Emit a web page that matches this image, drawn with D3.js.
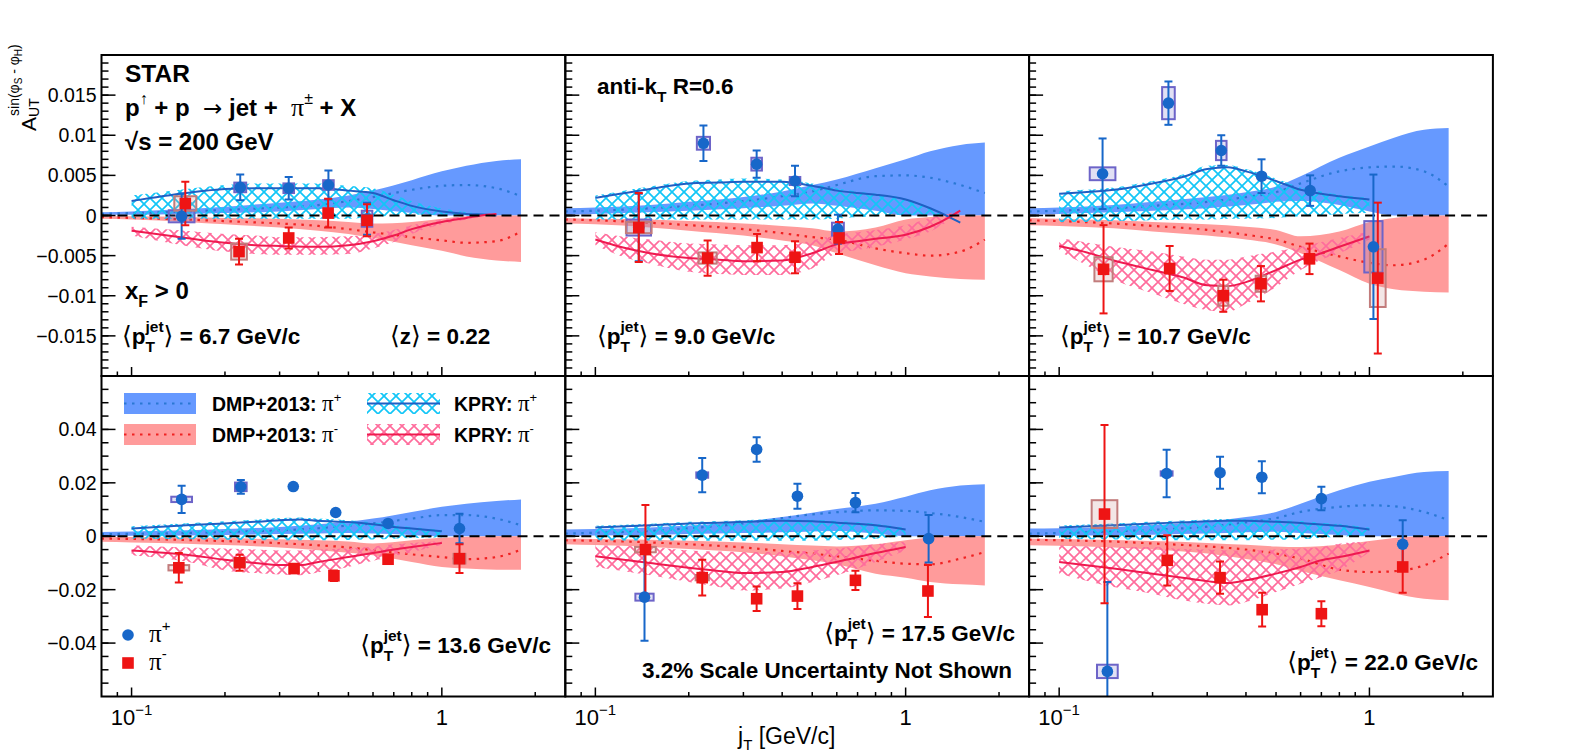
<!DOCTYPE html>
<html><head><meta charset="utf-8">
<script src="https://cdn.jsdelivr.net/npm/d3@7"></script>
<style>body{margin:0;background:#fff} svg{display:block} text{white-space:pre}</style>
</head><body><svg id="c" width="1575" height="753"></svg>
<script>
// ---------------- DATA ----------------
const panelPt = ["6.7", "9.0", "10.7", "13.6", "17.5", "22.0"];
const yTickVals = [[-0.015,-0.01,-0.005,0,0.005,0.01,0.015],[-0.04,-0.02,0,0.02,0.04]];
const yTickLabels = [["−0.015","−0.01","−0.005","0","0.005","0.01","0.015"],["−0.04","−0.02","0","0.02","0.04"]];
const xTickVals = [0.1, 1];
const xTickLabels = ["10|−1", "1"];

// pi+ data
const pipJt = [[0.145,0.224,0.321,0.431,0.574],[0.138,0.223,0.331,0.440,0.605],[0.138,0.225,0.333,0.449,0.644,1.03],
  [0.145,0.225,0.332,0.455,0.671,1.14],[0.144,0.221,0.331,0.448,0.689,1.186],[0.143,0.222,0.330,0.450,0.700,1.28]];
const pipA = [[-0.0001,0.0035,0.0034,0.0038,-0.0004],[-0.0015,0.0090,0.0064,0.0043,-0.0017],[0.0052,0.0140,0.0081,0.0049,0.0031,-0.0039],
  [0.0138,0.0185,0.0186,0.0089,0.0048,0.0029],[-0.0228,0.0229,0.0325,0.0150,0.0126,-0.0009],[-0.0506,0.0235,0.0238,0.0221,0.0141,-0.0030]];
const pipStat = [[0.0028,0.0016,0.0014,0.0018,0.0020],[0.0042,0.0022,0.0017,0.0019,0.0018],[0.0044,0.0027,0.0019,0.0021,0.0019,0.0090],
  [0.0051,0.0026,0.0008,0.0008,0.0008,0.0055],[0.0163,0.0064,0.0046,0.0047,0.0036,0.0089],[0.0335,0.0089,0.0060,0.0060,0.0044,0.0090]];
const pipSysJt = [[0.10,0.045,0.04,0.04,0.04],[0.095,0.05,0.04,0.04,0.045],[0.10,0.048,0.04,0.03,0.03,0.07],
  [0.08,0.044,0.03,0.03,0.03,0.03],[0.07,0.045,0.03,0.03,0.03,0.03],[0.08,0.045,0.03,0.03,0.03,0.03]];
const pipSysA = [[0.00075,0.0006,0.0006,0.0006,0.001],[0.001,0.0008,0.0008,0.0005,0.0008],[0.0008,0.002,0.0012,0.0003,0.0003,0.0032],
  [0.001,0.0016,0.0005,0.0005,0.0005,0.0005],[0.0013,0.001,0.0005,0.0005,0.0005,0.0005],[0.0025,0.0008,0.0005,0.0005,0.0005,0.0005]];

// pi- data
const pimJt = [[0.149,0.222,0.321,0.430,0.574],[0.138,0.230,0.332,0.440,0.610],[0.139,0.227,0.338,0.447,0.641,1.064],
  [0.142,0.223,0.334,0.449,0.671,1.14],[0.145,0.221,0.331,0.448,0.689,1.18],[0.140,0.223,0.330,0.451,0.700,1.28]];
const pimA = [[0.0015,-0.0045,-0.0028,0.0003,-0.0006],[-0.0015,-0.0053,-0.0040,-0.0052,-0.0028],[-0.0067,-0.0066,-0.0100,-0.0085,-0.0054,-0.0078],
  [-0.0118,-0.0099,-0.0121,-0.0148,-0.0086,-0.0084],[-0.0050,-0.0155,-0.0234,-0.0224,-0.0165,-0.0205],[0.0083,-0.0090,-0.0155,-0.0275,-0.0290,-0.0115]];
const pimStat = [[0.0027,0.0016,0.0013,0.0018,0.0020],[0.0043,0.0022,0.0017,0.0020,0.0020],[0.0055,0.0028,0.0020,0.0022,0.0019,0.0094],
  [0.0055,0.0030,0.0008,0.0020,0.0008,0.0054],[0.0167,0.0067,0.0046,0.0048,0.0036,0.0097],[0.0334,0.0094,0.0060,0.0063,0.0047,0.0097]];
const pimSysJt = [[0.085,0.06,0.03,0.03,0.03],[0.10,0.07,0.03,0.03,0.03],[0.07,0.03,0.038,0.04,0.03,0.06],
  [0.08,0.04,0.03,0.03,0.03,0.045],[0.08,0.05,0.03,0.03,0.03,0.03],[0.10,0.03,0.03,0.03,0.03,0.03]];
const pimSysA = [[0.0009,0.001,0.0003,0.0003,0.0004],[0.0007,0.0007,0.0003,0.0003,0.0003],[0.0015,0.0003,0.00125,0.001,0.0003,0.0036],
  [0.001,0.0016,0.0005,0.0005,0.0005,0.0018],[0.001,0.001,0.0005,0.0005,0.0005,0.0005],[0.0052,0.0005,0.0005,0.0005,0.0005,0.0005]];

// DMP+2013 model bands
const dmpX = [0.08,0.1,0.15,0.2,0.3,0.4,0.5,0.6,0.8,1.0,1.2,1.5,1.8];
const dmpPipHi = [
 [0.0004,0.0005,0.0008,0.0011,0.0016,0.0020,0.0025,0.0031,0.0044,0.0055,0.0062,0.0068,0.0070],
 [0.0009,0.0010,0.0013,0.0017,0.0023,0.0030,0.0038,0.0045,0.0059,0.0070,0.0080,0.0088,0.0091],
 [0.0009,0.0010,0.0013,0.0017,0.0023,0.0029,0.0036,0.0049,0.0072,0.0086,0.0097,0.0107,0.0109],
 [0.0016,0.0018,0.0022,0.0027,0.0035,0.0045,0.0054,0.0066,0.0091,0.0110,0.0122,0.0132,0.0138],
 [0.0025,0.0027,0.0033,0.0040,0.0055,0.0072,0.0088,0.0102,0.0122,0.0148,0.0172,0.0190,0.0195],
 [0.0029,0.0030,0.0035,0.0042,0.0055,0.0072,0.0091,0.0122,0.0172,0.0204,0.0222,0.0241,0.0244]];
const dmpPipMid = [
 [0.0002,0.0003,0.0005,0.0007,0.0010,0.0013,0.0018,0.0023,0.0032,0.0037,0.0038,0.0034,0.0024],
 [0.0005,0.0006,0.0009,0.0012,0.0018,0.0024,0.0030,0.0038,0.0049,0.0050,0.0047,0.0038,0.0028],
 [0.0005,0.0006,0.0009,0.0012,0.0017,0.0023,0.0029,0.0040,0.0055,0.0060,0.0061,0.0055,0.0036],
 [0.0008,0.0009,0.0012,0.0016,0.0022,0.0030,0.0040,0.0048,0.0066,0.0079,0.0079,0.0066,0.0041],
 [0.0010,0.0013,0.0020,0.0030,0.0048,0.0068,0.0082,0.0090,0.0097,0.0095,0.0087,0.0072,0.0054],
 [0.0010,0.0012,0.0018,0.0024,0.0036,0.0052,0.0068,0.0091,0.0110,0.0116,0.0112,0.0091,0.0060]];
const dmpPipLo = [
 [0.0001,0.0001,0.0002,0.0003,0.0005,0.0008,0.0010,0.0008,0.0003,0,0,0,0],
 [0.0001,0.0002,0.0004,0.0006,0.0009,0.0012,0.0015,0.0012,0.0006,0,0,0,0],
 [0.0001,0.0002,0.0004,0.0006,0.0009,0.0013,0.0017,0.0018,0.0013,0.0005,0,0,0],
 [0.0001,0.0002,0.0003,0.0005,0.0008,0.0010,0.0012,0.0010,0.0005,0,0,0,0],
 [0.0002,0.0003,0.0005,0.0008,0.0012,0.0015,0.0018,0.0020,0.0010,0,0,0,0],
 [0.0001,0.0002,0.0004,0.0006,0.0010,0.0015,0.0017,0.0012,0.0005,0,0,0,0]];
const dmpPimHi = [
 [-0.0001,-0.0001,-0.0002,-0.0003,-0.0004,-0.0006,-0.0008,-0.0010,-0.0008,-0.0004,-0.0001,0,0],
 [-0.0003,-0.0004,-0.0005,-0.0007,-0.0010,-0.0013,-0.0016,-0.0020,-0.0015,-0.0005,-0.0002,0,0],
 [-0.0003,-0.0004,-0.0006,-0.0008,-0.0011,-0.0014,-0.0018,-0.0026,-0.0020,-0.0008,-0.0003,0,0],
 [-0.0002,-0.0003,-0.0005,-0.0007,-0.0011,-0.0015,-0.0020,-0.0027,-0.0015,-0.0006,-0.0002,0,0],
 [-0.0009,-0.0010,-0.0013,-0.0017,-0.0023,-0.0030,-0.0035,-0.0038,-0.0030,-0.0015,-0.0005,0,0],
 [-0.0009,-0.0010,-0.0014,-0.0018,-0.0025,-0.0032,-0.0038,-0.0040,-0.0032,-0.0018,-0.0007,0,0]];
const dmpPimMid = [
 [-0.0002,-0.0003,-0.0005,-0.0007,-0.0010,-0.0013,-0.0017,-0.0021,-0.0027,-0.0031,-0.0034,-0.0032,-0.0020],
 [-0.0005,-0.0006,-0.0009,-0.0012,-0.0017,-0.0022,-0.0027,-0.0030,-0.0041,-0.0047,-0.0050,-0.0045,-0.0030],
 [-0.0006,-0.0007,-0.0010,-0.0013,-0.0018,-0.0024,-0.0030,-0.0039,-0.0051,-0.0059,-0.0062,-0.0055,-0.0035],
 [-0.0009,-0.0010,-0.0014,-0.0018,-0.0026,-0.0034,-0.0042,-0.0052,-0.0068,-0.0078,-0.0086,-0.0078,-0.0050],
 [-0.0015,-0.0017,-0.0023,-0.0030,-0.0042,-0.0055,-0.0065,-0.0075,-0.0092,-0.0103,-0.0105,-0.0084,-0.0059],
 [-0.0013,-0.0015,-0.0020,-0.0027,-0.0038,-0.0050,-0.0065,-0.0084,-0.0125,-0.0134,-0.0131,-0.0109,-0.0065]];
const dmpPimLo = [
 [-0.0004,-0.0005,-0.0008,-0.0011,-0.0015,-0.0019,-0.0023,-0.0028,-0.0037,-0.0044,-0.0051,-0.0056,-0.0058],
 [-0.0010,-0.0011,-0.0015,-0.0019,-0.0025,-0.0031,-0.0037,-0.0047,-0.0062,-0.0072,-0.0076,-0.0079,-0.0080],
 [-0.0012,-0.0013,-0.0016,-0.0020,-0.0025,-0.0030,-0.0036,-0.0047,-0.0068,-0.0085,-0.0092,-0.0095,-0.0096],
 [-0.0021,-0.0023,-0.0028,-0.0033,-0.0042,-0.0052,-0.0062,-0.0071,-0.0096,-0.0115,-0.0121,-0.0125,-0.0125],
 [-0.0030,-0.0033,-0.0040,-0.0048,-0.0060,-0.0075,-0.0090,-0.0105,-0.0140,-0.0155,-0.0171,-0.0180,-0.0184],
 [-0.0034,-0.0036,-0.0042,-0.0050,-0.0065,-0.0085,-0.0105,-0.0130,-0.0165,-0.0190,-0.0213,-0.0234,-0.0240]];

// KPRY model bands
const kpryX = [
 [0.1,0.15,0.2,0.25,0.3,0.4,0.5,0.6,0.7,0.8,1.0,1.2,1.4,1.5],
 [0.1,0.12,0.15,0.2,0.25,0.3,0.4,0.5,0.6,0.7,0.8,1.0,1.2,1.4,1.5],
 [0.1,0.12,0.15,0.2,0.25,0.3,0.35,0.4,0.5,0.6,0.7,0.8,1.0],
 [0.1,0.15,0.2,0.25,0.3,0.35,0.4,0.5,0.6,0.7,0.8,1.0],
 [0.1,0.15,0.2,0.25,0.3,0.4,0.5,0.6,0.8,1.0],
 [0.1,0.15,0.2,0.25,0.3,0.35,0.4,0.5,0.6,0.7,0.8,1.0]];
const kpryPipMid = [
 [0.0018,0.0028,0.0033,0.0034,0.0034,0.0034,0.0031,0.0028,0.0019,0.0012,0.0005,0.0002,0.0001,0.0],
 [0.0022,0.0027,0.0033,0.0040,0.0041,0.0042,0.0042,0.0037,0.0031,0.0028,0.0026,0.0020,0.0009,-0.0003,-0.0009],
 [0.0027,0.0029,0.0032,0.0040,0.0048,0.0058,0.0060,0.0055,0.0043,0.0032,0.0027,0.0024,0.0020],
 [0.0029,0.0041,0.0048,0.0054,0.0060,0.0063,0.0058,0.0053,0.0045,0.0035,0.0029,0.0019],
 [0.0033,0.0041,0.0048,0.0051,0.0054,0.0058,0.0056,0.0051,0.0041,0.0025],
 [0.0033,0.0041,0.0048,0.0052,0.0056,0.0058,0.0058,0.0054,0.0050,0.0044,0.0039,0.0025]];
const kpryPipHi = [
 [0.0025,0.0033,0.0038,0.0040,0.0040,0.0040,0.0037,0.0034,0.0026,0.0018,0.0009,0.0004,0.0002,0.0001],
 [0.0025,0.0030,0.0036,0.0043,0.0045,0.0046,0.0045,0.0040,0.0034,0.0030,0.0027,0.0021,0.0010,-0.0002,-0.0008],
 [0.0030,0.0032,0.0035,0.0043,0.0051,0.0062,0.0063,0.0058,0.0046,0.0035,0.0030,0.0026,0.0022],
 [0.0037,0.0049,0.0056,0.0062,0.0068,0.0070,0.0066,0.0060,0.0052,0.0042,0.0035,0.0024],
 [0.0039,0.0047,0.0054,0.0057,0.0060,0.0064,0.0062,0.0057,0.0047,0.0031],
 [0.0040,0.0048,0.0055,0.0059,0.0063,0.0065,0.0065,0.0061,0.0057,0.0051,0.0046,0.0032]];
const kpryPipLo = [
 [-0.0004,-0.0004,-0.0004,-0.0004,-0.0004,-0.0004,-0.0004,-0.0002,0.0,0.0001,0.0001,0.0,0.0,0.0],
 [-0.0005,-0.0005,-0.0005,-0.0005,-0.0005,-0.0005,-0.0005,-0.0005,-0.0004,-0.0002,-0.0001,0.0001,0.0,-0.0004,-0.0010],
 [-0.0008,-0.0008,-0.0007,-0.0006,-0.0005,-0.0005,-0.0004,-0.0004,-0.0003,-0.0001,0.0,0.0002,0.0003],
 [-0.0008,-0.0011,-0.0013,-0.0014,-0.0015,-0.0015,-0.0015,-0.0014,-0.0012,-0.0009,-0.0007,-0.0004],
 [-0.0015,-0.0016,-0.0016,-0.0017,-0.0017,-0.0017,-0.0017,-0.0014,-0.0009,0.0004],
 [-0.0009,-0.0012,-0.0014,-0.0015,-0.0015,-0.0015,-0.0015,-0.0013,-0.0012,-0.0006,-0.0002,0.0004]];
const kpryPimMid = [
 [-0.0019,-0.0028,-0.0034,-0.0037,-0.0038,-0.0039,-0.0037,-0.0032,-0.0025,-0.0017,-0.0008,-0.0003,0.0001,0.0002],
 [-0.0030,-0.0039,-0.0047,-0.0053,-0.0055,-0.0057,-0.0056,-0.0047,-0.0036,-0.0032,-0.0029,-0.0024,-0.0014,-0.0001,0.0006],
 [-0.0038,-0.0045,-0.0056,-0.0068,-0.0077,-0.0087,-0.0088,-0.0083,-0.0068,-0.0055,-0.0047,-0.0039,-0.0026],
 [-0.0053,-0.0069,-0.0088,-0.0100,-0.0108,-0.0108,-0.0096,-0.0078,-0.0063,-0.0050,-0.0040,-0.0025],
 [-0.0075,-0.0100,-0.0118,-0.0130,-0.0138,-0.0134,-0.0115,-0.0096,-0.0063,-0.0040],
 [-0.0096,-0.0121,-0.0140,-0.0155,-0.0168,-0.0175,-0.0165,-0.0140,-0.0115,-0.0090,-0.0078,-0.0053]];
const kpryPimHi = [
 [-0.0014,-0.0019,-0.0023,-0.0025,-0.0027,-0.0027,-0.0026,-0.0023,-0.0018,-0.0012,-0.0005,-0.0001,0.0002,0.0003],
 [-0.0021,-0.0026,-0.0030,-0.0035,-0.0036,-0.0037,-0.0037,-0.0031,-0.0024,-0.0021,-0.0018,-0.0012,-0.0003,0.0003,0.0007],
 [-0.0028,-0.0033,-0.0039,-0.0045,-0.0051,-0.0055,-0.0055,-0.0051,-0.0045,-0.0039,-0.0033,-0.0028,-0.0020],
 [-0.0034,-0.0042,-0.0046,-0.0050,-0.0053,-0.0053,-0.0050,-0.0045,-0.0038,-0.0030,-0.0025,-0.0018],
 [-0.0034,-0.0040,-0.0053,-0.0057,-0.0059,-0.0059,-0.0053,-0.0046,-0.0030,-0.0021],
 [-0.0034,-0.0040,-0.0040,-0.0048,-0.0050,-0.0053,-0.0053,-0.0050,-0.0046,-0.0040,-0.0028,-0.0021]];
const kpryPimLo = [
 [-0.0025,-0.0038,-0.0045,-0.0048,-0.0049,-0.0049,-0.0048,-0.0041,-0.0033,-0.0023,-0.0011,-0.0005,0.0,0.0001],
 [-0.0037,-0.0050,-0.0060,-0.0070,-0.0073,-0.0074,-0.0074,-0.0066,-0.0047,-0.0043,-0.0039,-0.0030,-0.0020,-0.0005,0.0002],
 [-0.0045,-0.0060,-0.0080,-0.0097,-0.0110,-0.0118,-0.0120,-0.0110,-0.0089,-0.0068,-0.0055,-0.0047,-0.0030],
 [-0.0071,-0.0095,-0.0128,-0.0138,-0.0143,-0.0146,-0.0135,-0.0115,-0.0092,-0.0075,-0.0060,-0.0032],
 [-0.0115,-0.0146,-0.0171,-0.0190,-0.0203,-0.0196,-0.0171,-0.0146,-0.0096,-0.0053],
 [-0.0140,-0.0190,-0.0215,-0.0240,-0.0253,-0.0259,-0.0246,-0.0209,-0.0178,-0.0153,-0.0128,-0.0059]];

// ---------------- STYLE / LAYOUT ----------------
const FONT = "'Liberation Sans', Arial, Helvetica, sans-serif";
const SYM = "'Liberation Serif', 'DejaVu Serif', serif";
const ANG = "'DejaVu Sans', 'Noto Sans', sans-serif";
const C = {pip:"#1767c9", pim:"#ee1414", pipBox:"#6d64c8", pimBox:"#c27c7c",
  dmpPip:"#6699ff", dmpPim:"#ff9b9b", dmpPipLine:"#2a78d4", dmpPimLine:"#f02222",
  kPipHatch:"#12c6f7", kPimHatch:"#ff6c9c", kPipLine:"#1f5fc4", kPimLine:"#ef1a50"};
const X0 = 101.5, PW = 463.8;
const rowTop = [55, 376], rowBot = [376, 696.5];
const yDom = [[-0.02, 0.02], [-0.06, 0.06]];
const xDom = [0.08, 2.5];

const svg = d3.select("#c");
const defs = svg.append("defs");
function hatch(id, col) {
  const p = defs.append("pattern").attr("id", id).attr("patternUnits", "userSpaceOnUse")
    .attr("width", 12).attr("height", 12);
  p.append("path").attr("d", "M-1,-1L13,13M-1,13L13,-1").attr("stroke", col)
    .attr("stroke-width", 1.7).attr("fill", "none");
}
hatch("hPip", C.kPipHatch);
hatch("hPim", C.kPimHatch);

// rich text helper: sequential segments, optional stacking (sub/superscript pairs)
function rich(parent, x, y, segs, anchor) {
  const g = parent.append("g");
  let cx = 0, prevStart = 0;
  segs.forEach(s => {
    const start = s.stack ? prevStart : cx;
    const t = g.append("text").attr("x", start).attr("y", s.dy || 0)
      .attr("font-family", s.font || FONT).attr("font-size", s.size || 22.5)
      .attr("font-weight", s.bold ? "bold" : "normal").attr("fill", "#000").text(s.t);
    const w = t.node().getComputedTextLength();
    if (s.stack) cx = Math.max(cx, start + w); else { prevStart = start; cx = start + w; }
  });
  const ox = anchor === "end" ? x - cx : anchor === "middle" ? x - cx / 2 : x;
  g.attr("transform", `translate(${ox},${y})`);
  return g;
}
const B = (t, o = {}) => Object.assign({t, bold: true}, o);
const N = (t, o = {}) => Object.assign({t, bold: false}, o);
function ptSegs(v) {
  return [N("⟨", {font: ANG, size: 25}), B("p"), B("jet", {size: 15.5, dy: -12}), B("T", {size: 15.5, dy: 8, stack: true}),
    N("⟩", {font: ANG, size: 25}), B(" = " + v + " GeV/c")];
}

for (let p = 0; p < 6; p++) {
  const row = p < 3 ? 0 : 1, col = p % 3;
  const x = d3.scaleLog().domain(xDom).range([X0 + col * PW, X0 + (col + 1) * PW]);
  const y = d3.scaleLinear().domain(yDom[row]).range([rowBot[row], rowTop[row]]);
  defs.append("clipPath").attr("id", "clip" + p).append("rect")
    .attr("x", x.range()[0]).attr("y", rowTop[row]).attr("width", PW).attr("height", rowBot[row] - rowTop[row]);
  const g = svg.append("g").attr("clip-path", `url(#clip${p})`);

  const band = (xs, lo, hi) => xs.map((v, i) => ({x: v, lo: lo[i], hi: hi[i]}));
  const area = d3.area().x(d => x(d.x)).y0(d => y(d.lo)).y1(d => y(d.hi)).curve(d3.curveMonotoneX);
  const line = d3.line().x(d => x(d.x)).y(d => y(d.v)).curve(d3.curveMonotoneX);
  const ln = (xs, v) => xs.map((a, i) => ({x: a, v: v[i]}));

  // DMP bands
  g.append("path").attr("d", area(band(dmpX, dmpPipLo[p], dmpPipHi[p]))).attr("fill", C.dmpPip);
  g.append("path").attr("d", area(band(dmpX, dmpPimLo[p], dmpPimHi[p]))).attr("fill", C.dmpPim);
  g.append("path").attr("d", line(ln(dmpX, dmpPipMid[p]))).attr("fill", "none").attr("stroke", C.dmpPipLine)
    .attr("stroke-width", 2.2).attr("stroke-dasharray", "2.5,5.5");
  g.append("path").attr("d", line(ln(dmpX, dmpPimMid[p]))).attr("fill", "none").attr("stroke", C.dmpPimLine)
    .attr("stroke-width", 2.2).attr("stroke-dasharray", "2.5,5.5");
  // KPRY hatched bands
  g.append("path").attr("d", area(band(kpryX[p], kpryPipLo[p], kpryPipHi[p]))).attr("fill", "url(#hPip)");
  g.append("path").attr("d", area(band(kpryX[p], kpryPimLo[p], kpryPimHi[p]))).attr("fill", "url(#hPim)");
  g.append("path").attr("d", line(ln(kpryX[p], kpryPipMid[p]))).attr("fill", "none").attr("stroke", C.kPipLine).attr("stroke-width", 2);
  g.append("path").attr("d", line(ln(kpryX[p], kpryPimMid[p]))).attr("fill", "none").attr("stroke", C.kPimLine).attr("stroke-width", 2);
  // zero line
  g.append("line").attr("x1", x.range()[0]).attr("x2", x.range()[1]).attr("y1", y(0)).attr("y2", y(0))
    .attr("stroke", "#000").attr("stroke-width", 2).attr("stroke-dasharray", "10,6");

  // data
  const series = [
    {jt: pipJt[p], a: pipA[p], st: pipStat[p], sx: pipSysJt[p], sy: pipSysA[p], col: C.pip, box: C.pipBox, boxFill: "rgba(120,112,205,0.22)", m: "c"},
    {jt: pimJt[p], a: pimA[p], st: pimStat[p], sx: pimSysJt[p], sy: pimSysA[p], col: C.pim, box: C.pimBox, boxFill: "rgba(200,140,140,0.22)", m: "s"}];
  series.forEach(s => {
    s.jt.forEach((j, i) => {
      g.append("rect").attr("x", x(j / (1 + s.sx[i]))).attr("y", y(s.a[i] + s.sy[i]))
        .attr("width", x(j * (1 + s.sx[i])) - x(j / (1 + s.sx[i]))).attr("height", y(s.a[i] - s.sy[i]) - y(s.a[i] + s.sy[i]))
        .attr("fill", s.boxFill).attr("stroke", s.box).attr("stroke-width", 2);
    });
  });
  series.forEach(s => {
    s.jt.forEach((j, i) => {
      const cx = x(j), y1 = y(s.a[i] + s.st[i]), y2 = y(s.a[i] - s.st[i]);
      g.append("line").attr("x1", cx).attr("x2", cx).attr("y1", y1).attr("y2", y2).attr("stroke", s.col).attr("stroke-width", 2);
      [y1, y2].forEach(yy => g.append("line").attr("x1", cx - 4).attr("x2", cx + 4).attr("y1", yy).attr("y2", yy)
        .attr("stroke", s.col).attr("stroke-width", 2));
    });
  });
  series.forEach(s => {
    s.jt.forEach((j, i) => {
      if (s.m === "c") g.append("circle").attr("cx", x(j)).attr("cy", y(s.a[i])).attr("r", 5.8).attr("fill", s.col);
      else g.append("rect").attr("x", x(j) - 5.8).attr("y", y(s.a[i]) - 5.8).attr("width", 11.6).attr("height", 11.6).attr("fill", s.col);
    });
  });

  // ticks
  const ax = svg.append("g");
  const xl = x.range()[0], yb = rowBot[row];
  const minorY = row === 0 ? d3.range(-19, 20).map(v => v / 1000) : d3.range(-11, 12).map(v => v * 0.005);
  minorY.forEach(v => ax.append("line").attr("x1", xl).attr("x2", xl + 7).attr("y1", y(v)).attr("y2", y(v)).attr("stroke", "#000").attr("stroke-width", 1.5));
  yTickVals[row].forEach(v => ax.append("line").attr("x1", xl).attr("x2", xl + 14).attr("y1", y(v)).attr("y2", y(v)).attr("stroke", "#000").attr("stroke-width", 1.5));
  const minorX = [0.09, 0.2, 0.3, 0.4, 0.5, 0.6, 0.7, 0.8, 0.9, 2];
  minorX.forEach(v => ax.append("line").attr("x1", x(v)).attr("x2", x(v)).attr("y1", yb).attr("y2", yb - 4.5).attr("stroke", "#000").attr("stroke-width", 1.5));
  xTickVals.forEach(v => ax.append("line").attr("x1", x(v)).attr("x2", x(v)).attr("y1", yb).attr("y2", yb - 9).attr("stroke", "#000").attr("stroke-width", 1.5));
  // frame
  ax.append("rect").attr("x", xl).attr("y", rowTop[row]).attr("width", PW).attr("height", rowBot[row] - rowTop[row])
    .attr("fill", "none").attr("stroke", "#000").attr("stroke-width", 2);

  // y tick labels (left column)
  if (col === 0) {
    yTickVals[row].forEach((v, i) => ax.append("text").attr("x", xl - 5).attr("y", y(v)).attr("dy", "0.36em")
      .attr("text-anchor", "end").attr("font-family", FONT).attr("font-size", 19.5).text(yTickLabels[row][i]));
  }
  // x tick labels (bottom row)
  if (row === 1) {
    xTickVals.forEach((v, i) => {
      const parts = xTickLabels[i].split("|");
      const segs = [N(parts[0], {size: 22})];
      if (parts[1]) segs.push(N(parts[1], {size: 15, dy: -10}));
      rich(svg, x(v), 725, segs, "middle");
    });
  }
}

// ---------------- TEXT ANNOTATIONS ----------------
rich(svg, 125, 82, [B("STAR", {size: 24.5})]);
rich(svg, 125, 116, [B("p", {size: 24}), N("↑", {size: 16, dy: -12}), B(" + p  ", {size: 24}), N("→", {font: ANG, size: 23}),
  B(" jet +  ", {size: 24}), N("π", {font: SYM, size: 26}), N("±", {size: 16, dy: -12}), B(" + X", {size: 24})]);
rich(svg, 125, 150, [B("√s = 200 GeV", {size: 24})]);
rich(svg, 125, 299, [B("x", {size: 24}), B("F", {size: 16, dy: 8}), B(" > 0", {size: 24})]);
rich(svg, 122, 344, ptSegs(panelPt[0]));
rich(svg, 390, 344, [N("⟨", {font: ANG, size: 25}), B("z"), N("⟩", {font: ANG, size: 25}), B(" = 0.22")]);
rich(svg, 597, 94, [B("anti-k"), B("T", {size: 15.5, dy: 8}), B(" R=0.6")]);
rich(svg, 597, 344, ptSegs(panelPt[1]));
rich(svg, 1060, 344, ptSegs(panelPt[2]));
rich(svg, 551, 653, ptSegs(panelPt[3]), "end");
rich(svg, 1015, 641, ptSegs(panelPt[4]), "end");
rich(svg, 642, 678, [B("3.2% Scale Uncertainty Not Shown")]);
rich(svg, 1478, 670, ptSegs(panelPt[5]), "end");

// ---------------- LEGEND ----------------
const lg = svg.append("g");
const legRows = [{y: 393, band: C.dmpPip, dline: C.dmpPipLine, hat: "url(#hPip)", kline: C.kPipLine, sign: "+"},
                 {y: 424, band: C.dmpPim, dline: C.dmpPimLine, hat: "url(#hPim)", kline: C.kPimLine, sign: "-"}];
legRows.forEach(r => {
  lg.append("rect").attr("x", 124).attr("y", r.y).attr("width", 72).attr("height", 21).attr("fill", r.band);
  lg.append("line").attr("x1", 124).attr("x2", 196).attr("y1", r.y + 10.5).attr("y2", r.y + 10.5).attr("stroke", r.dline)
    .attr("stroke-width", 2.2).attr("stroke-dasharray", "2.5,5.5");
  lg.append("rect").attr("x", 367).attr("y", r.y).attr("width", 73).attr("height", 21).attr("fill", r.hat);
  lg.append("line").attr("x1", 367).attr("x2", 440).attr("y1", r.y + 10.5).attr("y2", r.y + 10.5).attr("stroke", r.kline).attr("stroke-width", 2);
  rich(lg, 212, r.y + 18, [B("DMP+2013: ", {size: 19.5}), N("π", {font: SYM, size: 23}), N(r.sign, {size: 13, dy: -9})]);
  rich(lg, 454, r.y + 18, [B("KPRY: ", {size: 19.5}), N("π", {font: SYM, size: 23}), N(r.sign, {size: 13, dy: -9})]);
});
lg.append("circle").attr("cx", 128).attr("cy", 635).attr("r", 5.8).attr("fill", C.pip);
lg.append("rect").attr("x", 122.2).attr("y", 657.2).attr("width", 11.6).attr("height", 11.6).attr("fill", C.pim);
rich(lg, 149, 642, [N("π", {font: SYM, size: 25}), N("+", {size: 15, dy: -11})]);
rich(lg, 149, 670, [N("π", {font: SYM, size: 25}), N("-", {size: 15, dy: -11})]);

// ---------------- AXIS TITLES ----------------
rich(svg, 738, 744, [N("j", {size: 23}), N("T", {size: 15, dy: 6}), N(" [GeV/c]", {size: 23})]);
const yt = svg.append("g").attr("transform", "translate(36,131) rotate(-90)");
const tA = yt.append("text").attr("x", 0).attr("y", 0).attr("font-family", FONT).attr("font-size", 21).text("A");
const wA = tA.node().getComputedTextLength();
yt.append("text").attr("x", wA).attr("y", 3).attr("font-family", FONT).attr("font-size", 14).text("UT");
const sup = yt.append("text").attr("x", wA + 1).attr("y", -17).attr("font-family", FONT).attr("font-size", 14);
sup.append("tspan").text("sin(φ");
sup.append("tspan").attr("font-size", 10).attr("dy", 3).text("S");
sup.append("tspan").attr("dy", -3).text(" - φ");
sup.append("tspan").attr("font-size", 10).attr("dy", 3).text("H");
sup.append("tspan").attr("dy", -3).text(")");
</script></body></html>
